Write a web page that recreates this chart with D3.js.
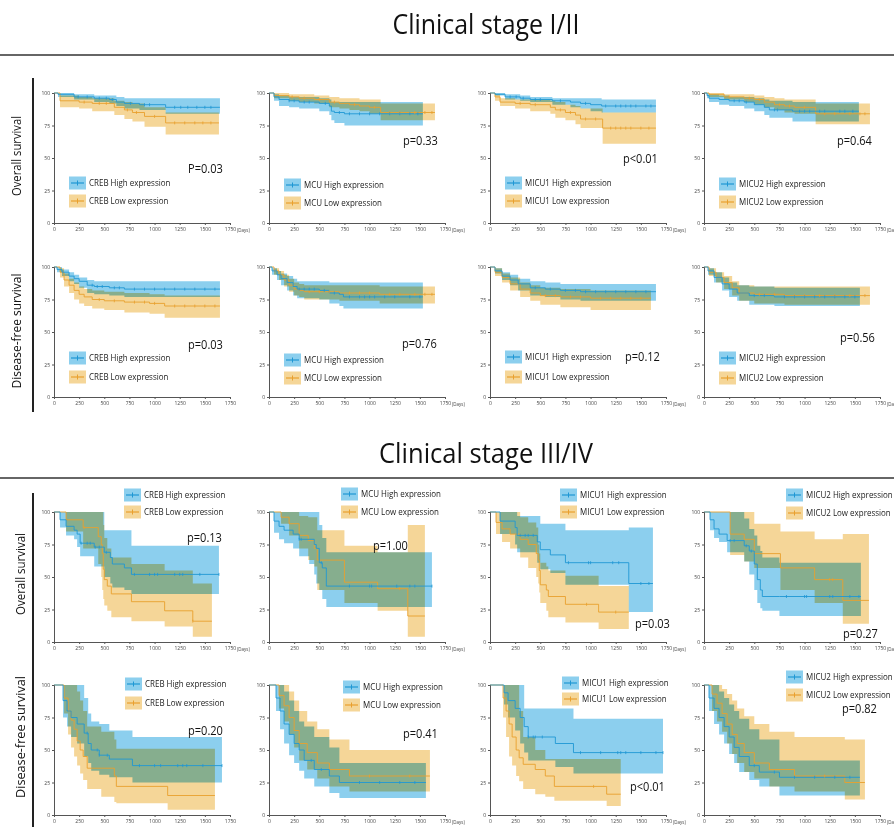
<!DOCTYPE html>
<meta charset="utf-8">
<script src="https://d3js.org/d3.v7.min.js"></script>
<style>
  body { margin: 0; background: #fff; }
  text { font-family: "Open Sans", "Noto Sans", sans-serif; }
</style>
<div id="chart"></div>
<script>
// each step: [day, survival %, lower CI, upper CI]
// ---- clinical stage I/II, overall survival ----
var osEarlyCrebHigh = [[0,100,100,100],[40,99,97,100],[200,97,95,99],[400,96,93,98],[550,95,92,98],[620,93,90,97],[700,92,88,96],[850,91,87,96],[1110,89,84,96],[1650,89,84,96]];
var osEarlyCrebLow = [[0,100,100,100],[60,94,89,98],[250,93,88,97],[380,92,86,96],[600,89,83,94],[700,87,80,93],[780,85,78,92],[900,82,74,89],[1110,77,68,85],[1640,77,68,85]];
var osEarlyMcuHigh = [[0,100,100,100],[50,97,94,99],[100,95,90,98],[200,94,89,97],[300,93,88,97],[500,92,86,96],[600,90,83,95],[620,86,79,93],[650,85,77,93],[750,84,75,93],[1530,84,75,93]];
var osEarlyMcuLow = [[0,100,100,100],[50,98,96,100],[200,97,94,99],[300,96,93,99],[450,95,92,98],[600,93,89,97],[700,92,88,96],[800,91,87,96],[900,90,86,95],[1000,89,84,95],[1110,85,79,92],[1650,85,79,92]];
var osEarlyMicu1High = [[0,100,100,100],[50,99,98,100],[150,97,95,99],[300,96,94,98],[400,95,93,97],[620,94,91,96],[800,93,89,96],[900,92,88,96],[1000,91,86,96],[1110,90,85,95],[1650,90,85,95]];
var osEarlyMicu1Low = [[0,100,100,100],[50,97,94,99],[100,93,90,96],[250,92,88,95],[400,91,86,95],[600,89,84,94],[650,87,81,93],[750,85,79,91],[850,83,76,90],[900,80,73,88],[1120,73,61,85],[1650,73,61,85]];
var osEarlyMicu2High = [[0,100,100,100],[30,98,96,100],[50,96,93,99],[150,95,91,98],[250,94,90,97],[400,93,88,97],[500,91,86,96],[600,89,83,95],[650,87,81,94],[880,86,78,93],[1540,86,78,93]];
var osEarlyMicu2Low = [[0,100,100,100],[50,99,97,100],[200,97,95,99],[400,96,93,99],[500,95,91,98],[600,93,89,97],[700,91,87,96],[800,90,85,95],[900,89,84,95],[1110,84,76,92],[1650,84,76,92]];

// ---- clinical stage I/II, disease-free survival ----
var dfsEarlyCrebHigh = [[0,100,100,100],[30,98,96,100],[80,96,93,98],[150,93,89,96],[200,91,87,94],[250,89,84,92],[330,86,80,90],[400,85,79,89],[550,84,78,89],[700,83,77,89],[1650,83,77,89]];
var dfsEarlyCrebLow = [[0,100,100,100],[60,96,92,99],[100,90,85,95],[150,86,80,91],[200,82,75,88],[250,79,72,85],[300,77,70,83],[380,75,68,82],[500,74,67,81],[700,73,65,80],[950,72,64,79],[1100,70,61,78],[1650,70,61,78]];
var dfsEarlyMcuHigh = [[0,100,100,100],[30,97,94,99],[80,94,90,97],[120,91,86,95],[180,88,82,93],[240,85,78,91],[280,83,76,89],[500,82,75,89],[600,80,72,88],[700,79,70,88],[740,77,68,88],[1530,77,68,88]];
var dfsEarlyMcuLow = [[0,100,100,100],[50,97,94,99],[100,94,90,97],[150,90,85,94],[200,86,81,91],[250,83,78,88],[300,82,77,87],[350,81,75,86],[700,80,74,86],[1100,79,72,85],[1650,79,72,85]];
var dfsEarlyMicu1High = [[0,100,100,100],[50,97,95,99],[120,93,90,96],[200,90,86,94],[280,87,82,91],[400,84,78,89],[550,83,77,88],[700,82,75,87],[900,81,74,87],[1650,81,74,87]];
var dfsEarlyMicu1Low = [[0,100,100,100],[50,96,93,99],[120,92,88,95],[200,87,82,92],[300,83,77,88],[400,80,74,86],[500,78,71,84],[700,77,69,83],[1000,76,67,82],[1600,76,67,82]];
var dfsEarlyMicu2High = [[0,100,100,100],[40,97,94,99],[100,92,88,96],[180,87,82,92],[250,83,77,88],[330,80,74,86],[450,78,71,85],[700,77,70,84],[1550,77,70,84]];
var dfsEarlyMicu2Low = [[0,100,100,100],[50,96,93,99],[120,92,88,96],[200,88,83,93],[280,84,78,89],[350,80,74,86],[500,79,72,85],[800,78,71,85],[1650,78,71,85]];

// ---- clinical stage III/IV, overall survival ----
var osLateCrebHigh = [[0,100,100,100],[60,94,88,100],[120,89,82,100],[200,86,79,100],[230,83,73,100],[260,76,66,100],[400,73,58,100],[500,69,50,86],[560,65,45,86],[580,60,42,86],[700,57,40,86],[770,52,37,74],[1640,52,37,74]];
var osLateCrebLow = [[0,100,100,100],[120,94,85,100],[290,88,72,100],[440,81,60,100],[470,75,50,100],[480,68,40,100],[490,56,33,90],[500,48,28,80],[530,43,24,72],[570,37,19,65],[770,31,16,60],[1100,24,12,55],[1380,16,4,45],[1570,16,4,45]];
var osLateMcuHigh = [[0,100,100,100],[50,93,84,100],[100,89,79,100],[150,86,76,100],[240,83,72,100],[300,79,66,100],[400,79,60,100],[450,75,52,100],[470,72,45,100],[500,61,40,90],[530,57,33,80],[570,43,27,69],[1620,43,27,69]];
var osLateMcuLow = [[0,100,100,100],[120,96,91,100],[200,91,82,100],[300,82,72,97],[390,78,63,96],[450,72,58,96],[480,63,40,86],[750,46,30,74],[1080,41,24,69],[1380,20,4,90],[1550,20,4,90]];
var osLateMicu1High = [[0,100,100,100],[100,93,83,100],[250,88,75,100],[270,82,69,97],[470,77,61,97],[500,71,56,91],[600,67,53,91],[750,61,44,86],[1380,45,23,88],[1620,45,23,88]];
var osLateMicu1Low = [[0,100,100,100],[60,92,83,100],[120,87,77,100],[200,83,72,100],[300,79,65,96],[380,75,57,92],[460,68,50,88],[480,63,45,75],[490,55,38,68],[500,44,30,61],[560,40,24,58],[580,35,19,55],[750,29,15,51],[1080,23,10,43],[1380,23,10,43]];
var osLateMicu2High = [[0,100,100,100],[60,94,86,100],[100,87,80,100],[150,83,77,100],[230,78,69,100],[400,74,62,95],[450,70,52,87],[500,60,40,82],[530,48,30,74],[560,40,26,70],[580,35,24,65],[750,35,20,61],[1560,35,20,61]];
var osLateMicu2Low = [[0,100,100,100],[260,83,67,100],[400,79,62,100],[500,68,57,91],[760,57,40,85],[1100,48,30,79],[1380,32,14,83],[1640,32,14,83]];

// ---- clinical stage III/IV, disease-free survival ----
var dfsLateCrebHigh = [[0,100,100,100],[90,88,75,100],[130,80,68,100],[170,75,60,100],[230,70,55,100],[300,63,45,90],[340,55,40,78],[370,50,34,72],[450,46,31,70],[550,43,29,65],[780,38,25,60],[1670,38,25,60]];
var dfsLateCrebLow = [[0,100,100,100],[100,90,78,100],[140,80,62,100],[170,73,52,100],[200,66,45,100],[230,57,38,95],[260,50,32,88],[290,45,27,80],[330,36,20,68],[470,36,14,64],[600,30,10,58],[620,22,9,51],[1130,15,4,51],[1600,15,4,51]];
var dfsLateMcuHigh = [[0,100,100,100],[70,90,80,100],[110,80,66,100],[150,70,55,95],[200,62,46,88],[250,55,40,80],[300,50,34,72],[350,42,28,68],[450,35,22,60],[600,30,17,52],[700,25,13,40],[1560,25,13,40]];
var dfsLateMcuLow = [[0,100,100,100],[100,92,82,100],[150,84,72,100],[200,75,62,95],[250,65,52,88],[300,55,42,80],[380,48,35,72],[480,40,28,66],[600,35,22,58],[800,30,18,50],[1600,30,18,50]];
var dfsLateMicu1High = [[0,100,100,100],[140,94,85,100],[180,88,75,100],[250,82,65,100],[300,75,55,100],[340,68,48,82],[380,60,42,82],[650,55,37,82],[830,48,32,74],[1720,48,32,74]];
var dfsLateMicu1Low = [[0,100,100,100],[130,90,75,100],[160,80,60,100],[190,70,45,100],[220,60,38,100],[260,50,30,100],[290,44,26,80],[330,39,20,60],[450,35,16,50],[550,30,14,43],[640,22,11,43],[1160,16,7,43],[1300,16,7,43]];
var dfsLateMicu2High = [[0,100,100,100],[50,90,80,100],[100,82,70,100],[150,75,62,95],[200,68,55,90],[250,60,47,85],[300,52,40,80],[350,45,33,74],[450,38,27,66],[550,33,22,58],[750,29,15,42],[1550,29,15,42]];
var dfsLateMicu2Low = [[0,100,100,100],[80,93,80,100],[130,86,72,100],[180,78,64,97],[230,70,55,93],[280,62,47,88],[330,55,40,82],[400,48,33,76],[500,40,28,70],[650,35,22,64],[900,30,18,60],[1400,25,12,58],[1600,25,12,58]];

// censored cases (days) - high / low per panel, row by row
var censHigh = [
  [[240,330,450,520,580,760,900,950,1200,1260,1330,1420,1500,1560],[200,250,350,400,560,700,800,900,1000,1100,1200,1300,1400,1480],[200,260,330,450,500,700,950,1150,1250,1300,1350,1400,1450,1550,1600],[300,350,420,700,730,950,1000,1050,1150,1200,1350,1400,1480]],
  [[380,430,480,600,650,800,900,1000,1100,1200,1300,1400,1500,1600],[300,350,400,450,550,650,800,900,950,1000,1050,1150,1250,1400,1500],[450,600,750,850,950,1050,1150,1250,1350,1450,1550],[500,600,800,900,1000,1100,1200,1300,1400,1500]],
  [[270,330,360,410,450,520,800,950,1000,1030,1200,1250,1280,1450,1640],[300,320,520,800,1000,1020,1270,1400,1450,1620],[300,350,380,430,780,980,1000,1220,1280,1500,1580],[260,300,420,470,820,1000,1020,1250,1280,1450,1540]],
  [[330,430,450,530,850,1000,1060,1230,1280,1320,1480,1670],[420,520,900,1100,1300,1450],[380,430,450,520,900,1100,1270,1300,1350,1500,1650,1720],[500,700,900,1100,1300,1450]]
];
var censLow = [
  [[300,450,520,730,820,1000,1200,1300,1400,1480,1560],[230,350,500,650,850,1050,1200,1300,1450,1550,1620],[300,450,700,800,950,1050,1200,1250,1300,1350,1400,1500,1580],[250,450,550,750,850,1000,1200,1300,1450,1550,1600]],
  [[450,600,800,900,1000,1200,1300,1400,1500,1600],[400,500,600,800,900,1000,1200,1300,1450,1550,1620],[550,650,800,900,1100,1200,1300,1400,1500],[550,700,900,1000,1150,1300,1450,1600]],
  [[300,1380],[1300],[960,1250],[1250,1280]],
  [[],[1000,1400],[1030],[1200]]
];

var xTicks = [0, 250, 500, 750, 1000, 1250, 1500, 1750];
var yTicks = [0, 25, 50, 75, 100];
var stageTitles = ["Clinical stage I/II", "Clinical stage III/IV"];
var rowLabels = ["Overall survival", "Disease-free survival"];
var genes = ["CREB", "MCU", "MICU1", "MICU2"];
var pValues = [
  ["P=0.03", "p=0.33", "p<0.01", "p=0.64"],
  ["p=0.03", "p=0.76", "p=0.12", "p=0.56"],
  ["p=0.13", "p=1.00", "p=0.03", "p=0.27"],
  ["p=0.20", "p=0.41", "p<0.01", "p=0.82"]
];

var seriesHigh = [
  [osEarlyCrebHigh, osEarlyMcuHigh, osEarlyMicu1High, osEarlyMicu2High],
  [dfsEarlyCrebHigh, dfsEarlyMcuHigh, dfsEarlyMicu1High, dfsEarlyMicu2High],
  [osLateCrebHigh, osLateMcuHigh, osLateMicu1High, osLateMicu2High],
  [dfsLateCrebHigh, dfsLateMcuHigh, dfsLateMicu1High, dfsLateMicu2High]
];
var seriesLow = [
  [osEarlyCrebLow, osEarlyMcuLow, osEarlyMicu1Low, osEarlyMicu2Low],
  [dfsEarlyCrebLow, dfsEarlyMcuLow, dfsEarlyMicu1Low, dfsEarlyMicu2Low],
  [osLateCrebLow, osLateMcuLow, osLateMicu1Low, osLateMicu2Low],
  [dfsLateCrebLow, dfsLateMcuLow, dfsLateMicu1Low, dfsLateMicu2Low]
];

// ---- layout ----
var colX = [54, 269, 490, 704];
var rowY = [93, 267, 512, 685];
var plotW = 176, plotH = 130;
// legend: [dx, dy first row, dy second row] from (axis x, y of 100)
var legendPos = [
  [[15,90,108],[15,92,110],[15,90,108],[15,91,109]],
  [[15,91,110],[15,93,111],[15,90,110],[15,91,111]],
  [[70,-17,0],[72,-18,0],[70,-17,0],[82,-17,1]],
  [[71,-1,18],[74,2,20],[72,-2,14],[82,-8,10]]
];
var pPos = [
  [[188,173],[403,145],[623,163],[837,145]],
  [[188,349],[402,348],[625,361],[840,342]],
  [[187,542],[373,550],[635,628],[843,638]],
  [[188,735],[403,738],[630,791],[842,713]]
];
var showDays = [[1,1,1,1],[0,1,1,1],[1,1,1,1],[0,1,1,1]];

var blueLine = "#1f97d4", orangeLine = "#e9a02e";
var blueBand = "#8ccfee", orangeBand = "#f5d698";

var svg = d3.select("#chart").append("svg")
    .attr("width", 894).attr("height", 827);

function squeeze(sel, k) {
  sel.each(function() {
    var w = this.getComputedTextLength();
    d3.select(this).attr("textLength", w * k).attr("lengthAdjust", "spacingAndGlyphs");
  });
}

// titles and separators
var titleY = [34, 463], titleW = [187, 214], ruleY = [55, 478];
stageTitles.forEach(function(t, i) {
  svg.append("text")
    .attr("x", 486).attr("y", titleY[i])
    .attr("text-anchor", "middle")
    .attr("font-size", 27).attr("fill", "#111")
    .attr("textLength", titleW[i]).attr("lengthAdjust", "spacingAndGlyphs")
    .text(t);
  svg.append("line")
    .attr("x1", 0).attr("x2", 894).attr("y1", ruleY[i]).attr("y2", ruleY[i])
    .attr("stroke", "#333").attr("stroke-width", 1.5);
});

// left bars and row labels
[[78, 412], [493, 827]].forEach(function(s) {
  svg.append("line").attr("x1", 33).attr("x2", 33).attr("y1", s[0]).attr("y2", s[1])
    .attr("stroke", "#222").attr("stroke-width", 2);
});
var labelCy = [156, 331, 574, 737], labelX = [21, 21, 25, 25], labelW = [80, 115, 82, 122];
labelCy.forEach(function(cy, i) {
  svg.append("text")
    .attr("transform", "translate(" + labelX[i] + "," + cy + ") rotate(-90)")
    .attr("text-anchor", "middle").attr("font-size", 13).attr("fill", "#111")
    .attr("textLength", labelW[i]).attr("lengthAdjust", "spacingAndGlyphs")
    .text(rowLabels[i % 2]);
});

function survAt(series, t) {
  var v = series[0][1];
  series.forEach(function(d) { if (d[0] <= t) v = d[1]; });
  return v;
}

for (var r = 0; r < 4; r++) {
  for (var c = 0; c < 4; c++) {
    var x = d3.scaleLinear().domain([0, 1750]).range([colX[c], colX[c] + plotW]);
    var y = d3.scaleLinear().domain([0, 100]).range([rowY[r] + plotH, rowY[r]]);
    var g = svg.append("g");

    var area = d3.area().curve(d3.curveStepAfter)
      .x(function(d) { return x(d[0]); })
      .y0(function(d) { return y(d[2]); })
      .y1(function(d) { return y(d[3]); });
    var line = d3.line().curve(d3.curveStepAfter)
      .x(function(d) { return x(d[0]); })
      .y(function(d) { return y(d[1]); });

    g.append("path").datum(seriesHigh[r][c]).attr("d", area)
      .attr("fill", blueBand).style("mix-blend-mode", "multiply");
    g.append("path").datum(seriesLow[r][c]).attr("d", area)
      .attr("fill", orangeBand).style("mix-blend-mode", "multiply");

    g.append("path").datum(seriesLow[r][c]).attr("d", line)
      .attr("fill", "none").attr("stroke", orangeLine).attr("stroke-width", 0.9);
    g.append("path").datum(seriesHigh[r][c]).attr("d", line)
      .attr("fill", "none").attr("stroke", blueLine).attr("stroke-width", 0.9);

    // censor marks
    [[seriesLow[r][c], censLow[r][c], orangeLine], [seriesHigh[r][c], censHigh[r][c], blueLine]].forEach(function(s) {
      g.append("g").selectAll("line").data(s[1]).enter().append("line")
        .attr("x1", function(t) { return x(t); }).attr("x2", function(t) { return x(t); })
        .attr("y1", function(t) { return y(survAt(s[0], t)) - 1.5; })
        .attr("y2", function(t) { return y(survAt(s[0], t)) + 1.5; })
        .attr("stroke", s[2]).attr("stroke-width", 0.8);
    });

    // axes
    var ax = g.append("g").attr("transform", "translate(0," + (rowY[r] + plotH) + ")")
      .call(d3.axisBottom(x).tickValues(xTicks).tickFormat(d3.format("d")).tickSize(2).tickPadding(2));
    var ay = g.append("g").attr("transform", "translate(" + colX[c] + ",0)")
      .call(d3.axisLeft(y).tickValues(yTicks).tickFormat(d3.format("d")).tickSize(2).tickPadding(2));
    [ax, ay].forEach(function(a) {
      a.selectAll("path, line").attr("stroke", "#555");
      a.selectAll("text").attr("font-size", 5).attr("fill", "#444")
        .attr("font-family", "'Open Sans', sans-serif");
    });
    if (showDays[r][c]) {
      g.append("text").attr("x", x(1750) + 7).attr("y", rowY[r] + plotH + 9)
        .attr("font-size", 4.5).attr("fill", "#444").text("(Days)");
    }

    // legend
    var lp = legendPos[r][c];
    var lx = colX[c] + lp[0];
    var items = [[genes[c] + " High expression", blueBand, blueLine, lp[1]],
                 [genes[c] + " Low expression", orangeBand, orangeLine, lp[2]]];
    items.forEach(function(it) {
      var cy = rowY[r] + it[3];
      g.append("rect").attr("x", lx).attr("y", cy - 6.5).attr("width", 17).attr("height", 13)
        .attr("fill", it[1]);
      g.append("line").attr("x1", lx + 2).attr("x2", lx + 15).attr("y1", cy).attr("y2", cy)
        .attr("stroke", it[2]).attr("stroke-width", 1.2);
      g.append("line").attr("x1", lx + 8.5).attr("x2", lx + 8.5).attr("y1", cy - 2.5).attr("y2", cy + 2.5)
        .attr("stroke", it[2]).attr("stroke-width", 1);
      g.append("text").attr("x", lx + 20).attr("y", cy + 3.3)
        .attr("font-size", 9.5).attr("fill", "#222").text(it[0])
        .call(squeeze, 0.84);
    });

    g.append("text").attr("x", pPos[r][c][0]).attr("y", pPos[r][c][1])
      .attr("font-size", 12).attr("fill", "#111").text(pValues[r][c])
      .call(squeeze, 0.92);
  }
}
</script>
